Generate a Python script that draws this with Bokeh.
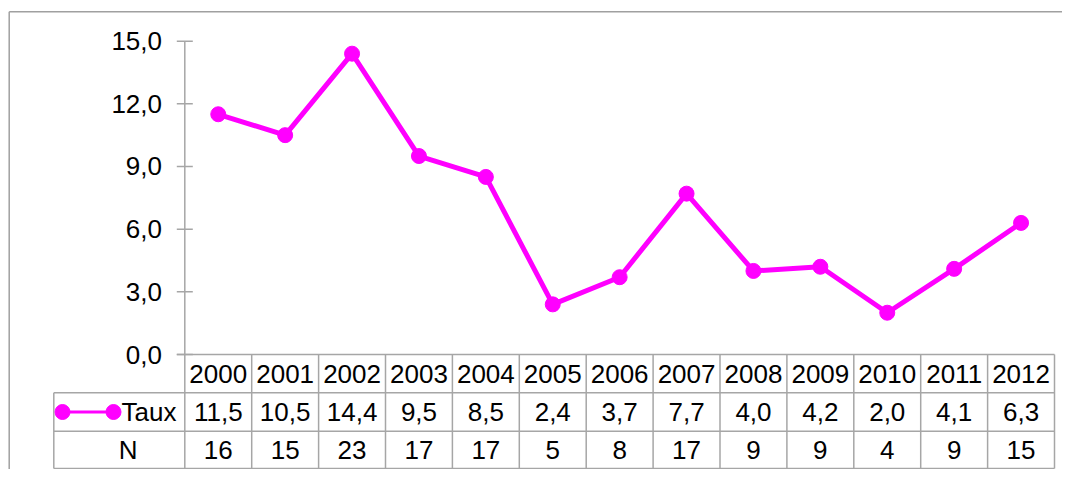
from bokeh.plotting import figure
from bokeh.models import Range1d, ColumnDataSource
from bokeh.core.properties import value
from bokeh.embed import file_html
from bokeh.resources import INLINE

years = ["2000", "2001", "2002", "2003", "2004", "2005", "2006",
         "2007", "2008", "2009", "2010", "2011", "2012"]
taux = [11.5, 10.5, 14.4, 9.5, 8.5, 2.4, 3.7, 7.7, 4.0, 4.2, 2.0, 4.1, 6.3]
n_vals = [16, 15, 23, 17, 17, 5, 8, 17, 9, 9, 4, 9, 15]
y_ticks = [0, 3, 6, 9, 12, 15]
series_name = "Taux"
n_name = "N"

MAG = "#FF00FF"
GRID = "#a6a6a6"
FONT = value("Liberation Sans")
FS = value("26px")

W, H = 1062, 469
# pixel scales (x: one column = 66.9 px, y: one unit = 20.89 px)
PX = 66.9
PY = 20.89
AX = 184.3   # pixel x of the value axis
AY = 354.0   # pixel y of the zero line

def fc(v):
    return f"{v:.1f}".replace(".", ",")

def dx(px):
    return -0.5 + (px - AX) / PX

def dy(py):
    return (AY - py) / PY

idx = list(range(len(years)))

p = figure(width=W, height=H, output_backend="svg", toolbar_location=None,
           x_range=Range1d(dx(0), dx(W)), y_range=Range1d(dy(H), dy(0)),
           x_axis_type=None, y_axis_type=None, min_border=0)
p.xgrid.visible = False
p.ygrid.visible = False
p.outline_line_color = None
p.background_fill_color = "white"

x0 = -0.5
x_end = x0 + len(years)
r1 = dy(392.3)
r2 = dy(430.7)
r3 = dy(468.0)
lab_left = dx(53.3)
tick = 8 / PX

# outer chart border (left and top)
bx = dx(8.7)
by = dy(11.3)
p.line([bx, bx], [dy(H + 10), by], line_color="#a0a0a0", line_width=1.5)
p.line([bx, dx(W + 10)], [by, by], line_color="#a0a0a0", line_width=1.5)

# y axis line and ticks
p.segment(x0=[x0], y0=[0], x1=[x0], y1=[15], line_color=GRID, line_width=1.5)
p.segment(x0=[x0 - tick] * len(y_ticks), y0=y_ticks,
          x1=[x0 + tick] * len(y_ticks), y1=y_ticks, line_color=GRID, line_width=1.5)
p.text(x=[dx(161.5)] * len(y_ticks), y=y_ticks,
       text=[fc(t) for t in y_ticks], text_align="right", text_baseline="middle",
       text_font=FONT, text_font_size=FS, text_color="black")

# table grid
p.segment(x0=[x0 - tick], y0=[0], x1=[x_end], y1=[0], line_color=GRID, line_width=1.5)
p.segment(x0=[lab_left] * 3, y0=[r1, r2, r3], x1=[x_end] * 3, y1=[r1, r2, r3],
          line_color=GRID, line_width=1.5)
vx = [x0 + i for i in range(len(years) + 1)]
p.segment(x0=vx, y0=[0] * len(vx), x1=vx, y1=[r3] * len(vx),
          line_color=GRID, line_width=1.5)
p.segment(x0=[lab_left], y0=[r1], x1=[lab_left], y1=[r3], line_color=GRID, line_width=1.5)

# table texts
yc_year = r1 / 2
yc_taux = (r1 + r2) / 2
yc_n = (r2 + r3) / 2
p.text(x=idx, y=[yc_year] * len(years), text=years, text_align="center",
       text_baseline="middle", text_font=FONT, text_font_size=FS, text_color="black")
p.text(x=idx, y=[yc_taux] * len(years), text=[fc(v) for v in taux], text_align="center",
       text_baseline="middle", text_font=FONT, text_font_size=FS, text_color="black")
p.text(x=idx, y=[yc_n] * len(years), text=[str(v) for v in n_vals], text_align="center",
       text_baseline="middle", text_font=FONT, text_font_size=FS, text_color="black")

# legend key in table
kx0 = dx(62)
kx1 = dx(113)
p.line([kx0, kx1], [yc_taux, yc_taux], line_color=MAG, line_width=3)
p.scatter([kx0, kx1], [yc_taux, yc_taux], size=15, color=MAG)
p.text(x=[dx(121)], y=[yc_taux], text=[series_name], text_align="left",
       text_baseline="middle", text_font=FONT, text_font_size=FS, text_color="black")
p.text(x=[dx(127.7)], y=[yc_n], text=[n_name], text_align="center",
       text_baseline="middle", text_font=FONT, text_font_size=FS, text_color="black")

# series
src = ColumnDataSource(dict(x=idx, y=taux))
p.line("x", "y", source=src, line_color=MAG, line_width=5)
p.scatter("x", "y", source=src, size=15, color=MAG)

open("out.html", "w").write(file_html(p, INLINE))
